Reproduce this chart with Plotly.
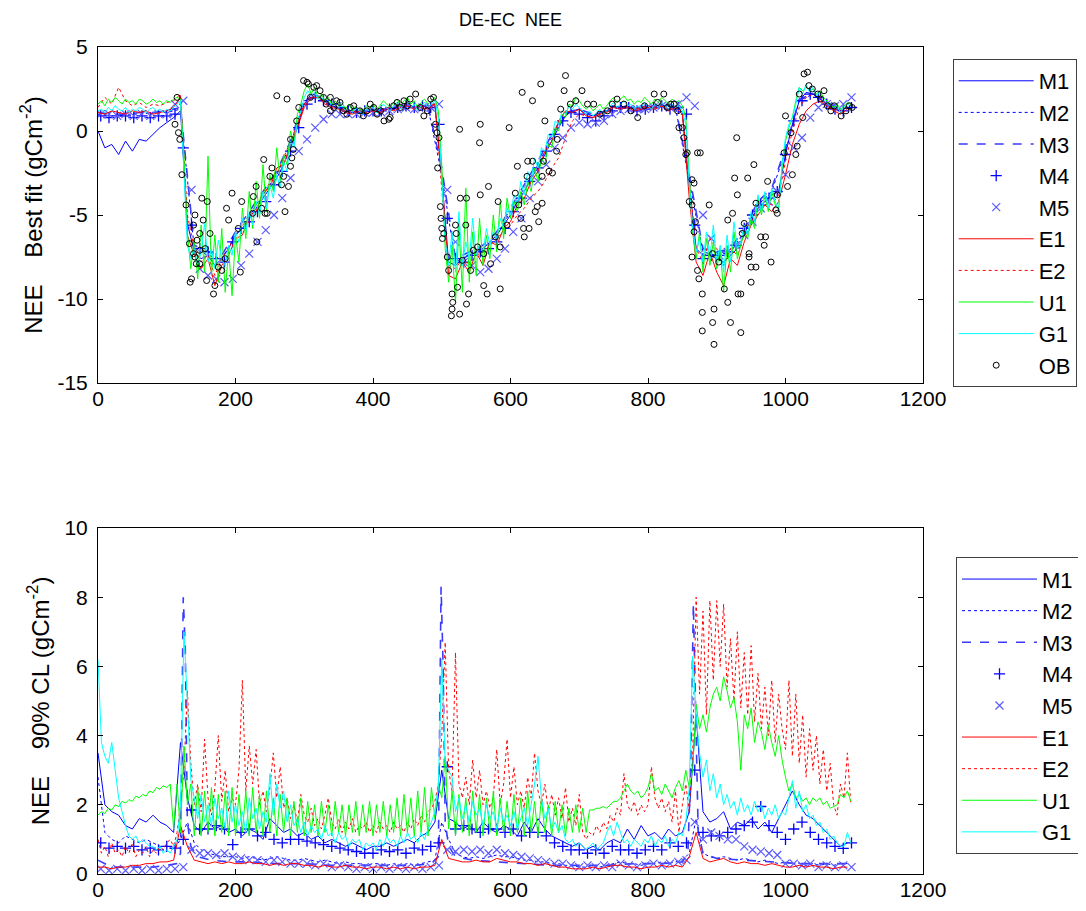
import plotly.graph_objects as go

# ---------------- day grids ----------------
days5 = list(range(0, 1100, 5))     # 220 samples
days10 = list(range(0, 1100, 10))   # 110 samples
days20 = list(range(0, 1100, 20))   # 55 samples
days12 = list(range(4, 1100, 12))   # 92 samples (M4 / M5 markers)

x_ticks = [0, 200, 400, 600, 800, 1000, 1200]
x_tick_labels = ["0", "200", "400", "600", "800", "1000", "1200"]
top_y_ticks = [-15, -10, -5, 0, 5]
top_y_labels = ["-15", "-10", "-5", "0", "5"]
bot_y_ticks = [0, 2, 4, 6, 8, 10]
bot_y_labels = ["0", "2", "4", "6", "8", "10"]

# ---------------- TOP PANEL: best fit NEE ----------------
G1_top = [
    1.2, 1.3, 1.1, 1.4, 1.2, 1.5, 1.3, 1.2, 1.4, 1.1, 1.3, 1.2, 1.4, 1.3, 1.1, 1.3, 1.4, 1.2, 1.3, 1.1,
    1.3, 1.2, 1.4, 1.6, 1.8, -2.5, -6.8, -7.6, -7.0, -8.0, -7.2, -5.5, -7.8, -7.0, -8.2, -6.5, -7.6, -8.0, -6.8, -7.4,
    -6.0, -6.6, -5.2, -6.0, -4.8, -5.6, -4.2, -5.0, -3.6, -4.6, -3.2, -4.0, -2.6, -3.4, -1.8, -2.4, -0.6, -1.0, 0.6, 1.2,
    2.0, 2.4, 2.1, 2.3, 1.9, 2.0, 1.7, 1.8, 1.5, 1.6, 1.4, 1.5, 1.2, 1.3, 1.1, 1.4, 1.2, 1.0, 1.3, 1.2,
    1.4, 1.1, 1.3, 1.6, 1.4, 1.2, 1.5, 1.7, 1.3, 1.6, 1.8, 1.4, 1.6, 1.2, 1.5, 1.7, 1.4, 1.6, 1.8, 0.8,
    -3.0, -6.5, -8.0, -6.0, -8.4, -4.8, -8.0, -6.6, -7.6, -5.2, -7.4, -6.8, -7.2, -5.8, -6.8, -6.0, -6.4, -5.2, -5.8, -4.6,
    -5.0, -3.8, -4.4, -3.0, -3.8, -2.4, -3.0, -1.6, -2.2, -1.0, -1.2, -0.2, -0.4, 0.6, 0.4, 1.2, 1.0, 1.5, 1.3, 1.6,
    1.4, 1.2, 1.0, 1.2, 0.9, 1.1, 1.3, 1.0, 1.2, 1.5, 1.7, 1.4, 1.6, 1.8, 1.5, 1.6, 1.3, 1.5, 1.4, 1.7,
    1.5, 1.3, 1.6, 1.4, 1.7, 1.5, 1.3, 1.6, 1.4, 1.5, 1.2, 0.4, -3.2, -5.8, -7.2, -6.4, -7.8, -6.0, -7.6, -5.6,
    -7.8, -6.8, -8.4, -6.2, -7.8, -5.4, -7.0, -6.6, -5.6, -6.2, -4.8, -5.4, -3.8, -4.8, -3.6, -4.6, -3.4, -4.2, -4.8, -2.0,
    -0.4, 0.4, 0.8, 1.6, 2.6, 2.2, 2.8, 2.3, 2.6, 2.1, 2.3, 1.9, 1.7, 1.5, 1.3, 1.5, 1.1, 1.4, 1.6, 1.5,
]
U1_top = [
    1.6, 1.8, 1.5, 1.9, 1.7, 2.0, 1.8, 1.6, 1.9, 1.7, 1.8, 1.6, 1.9, 1.8, 1.6, 1.7, 1.9, 1.7, 1.8, 1.6,
    1.8, 1.7, 1.9, 2.0, 1.9, -1.5, -6.0, -8.2, -6.4, -8.8, -5.6, -8.4, -1.5, -8.6, -6.2, -9.0, -5.8, -9.6, -7.0, -9.8,
    -6.2, -7.8, -4.6, -6.4, -3.6, -5.8, -3.0, -5.2, -2.0, -4.8, -2.6, -3.6, -1.0, -3.0, -1.4, -2.0, 0.0, -0.8, 1.0, 1.6,
    2.4, 2.8, 2.2, 2.6, 2.0, 2.2, 1.8, 2.0, 1.6, 1.8, 1.5, 1.7, 1.3, 1.6, 1.2, 1.5, 1.3, 1.2, 1.5, 1.4,
    1.6, 1.3, 1.5, 1.8, 1.6, 1.4, 1.7, 1.9, 1.5, 1.8, 2.0, 1.6, 1.8, 1.4, 1.7, 1.9, 1.6, 1.8, 2.0, 1.2,
    -2.0, -7.0, -9.0, -6.8, -10.2, -5.6, -9.6, -3.4, -9.0, -6.0, -8.6, -5.2, -8.0, -6.2, -7.6, -5.0, -7.2, -4.2, -6.4, -4.0,
    -5.2, -4.2, -4.8, -3.6, -4.4, -3.0, -3.6, -2.2, -3.0, -1.6, -2.0, -0.8, -1.0, 0.2, 0.0, 1.0, 0.8, 1.6, 1.5, 2.0,
    1.8, 1.5, 1.3, 1.5, 1.2, 1.4, 1.6, 1.3, 1.5, 1.8, 2.0, 1.7, 1.9, 2.1, 1.8, 1.9, 1.6, 1.8, 1.7, 2.0,
    1.8, 1.6, 1.9, 1.7, 2.0, 1.8, 1.6, 1.9, 1.7, 1.8, 1.5, 0.8, -2.6, -6.0, -7.6, -6.0, -8.4, -6.4, -8.0, -6.6,
    -8.2, -7.0, -9.6, -6.8, -8.4, -6.0, -7.6, -6.8, -6.0, -6.4, -5.2, -5.8, -4.0, -5.0, -3.8, -4.8, -3.6, -4.4, -4.6, -2.2,
    -0.6, 0.2, 0.8, 1.8, 2.6, 2.4, 2.6, 2.4, 2.5, 2.2, 2.4, 2.0, 1.8, 1.6, 1.4, 1.6, 1.3, 1.5, 1.7, 1.6,
]
E1_top = [
    1.1, 1.0, 1.2, 1.1, 1.0, 1.2, 1.1, 1.2, 1.0, 1.1,
    1.2, 1.4, 2.0, -6.2, -7.4, -8.2, -7.6, -9.2, -8.0, -7.4,
    -6.4, -6.2, -5.0, -4.8, -3.6, -3.4, -2.2, -2.0, -0.8, 0.2,
    1.4, 2.0, 2.0, 1.6, 1.4, 1.3, 1.1, 1.0, 1.2, 1.0,
    1.2, 1.1, 1.3, 1.2, 1.4, 1.5, 1.3, 1.4, 1.3, 1.6,
    -2.5, -8.6, -8.8, -7.8, -8.4, -7.2, -8.0, -6.6, -6.8, -5.8,
    -5.4, -4.4, -4.0, -3.0, -2.4, -1.2, -0.6, 0.6, 1.2, 1.1,
    1.3, 0.9, 0.8, 1.0, 1.1, 1.4, 1.3, 1.4, 1.2, 1.3,
    1.4, 1.3, 1.5, 1.2, 1.4, 1.0, -4.0, -7.8, -8.6, -7.2,
    -8.4, -9.2, -7.6, -8.0, -6.6, -5.6, -5.0, -4.4, -4.8, -4.2,
    -2.6, -0.8, 0.4, 1.2, 1.6, 1.8, 1.5, 1.2, 1.0, 1.3,
]
E2_top = [
    1.4, 2.0, 1.6, 2.6, 1.8, 1.5, 1.7, 1.4, 1.6, 1.5,
    1.7, 1.8, 2.2, -5.0, -7.0, -7.8, -7.4, -8.6, -7.6, -7.0,
    -6.2, -5.6, -5.4, -4.4, -4.0, -3.0, -2.6, -1.6, -0.6, 0.4,
    1.6, 2.2, 2.0, 1.7, 1.5, 1.4, 1.2, 1.1, 1.3, 1.1,
    1.3, 1.2, 1.4, 1.3, 1.5, 1.6, 1.4, 1.5, 1.4, 1.7,
    -3.5, -8.0, -8.2, -7.6, -8.0, -7.4, -7.2, -6.8, -6.4, -6.0,
    -5.6, -5.0, -4.6, -4.0, -3.6, -3.0, -2.2, -1.6, -0.4, 0.6,
    1.0, 0.9, 0.8, 1.0, 1.2, 1.5, 1.4, 1.5, 1.3, 1.4,
    1.5, 1.4, 1.6, 1.3, 1.5, 1.1, -3.0, -7.0, -7.8, -6.4,
    -7.0, -8.0, -7.0, -7.4, -6.0, -5.4, -4.6, -4.2, -4.4, -3.8,
    -1.8, 0.0, 1.4, 2.0, 2.2, 2.0, 1.6, 1.3, 1.2, 1.5,
]
M1_top = [
    0.0, -1.0, -0.8, -1.4, -0.6, -1.2, -0.5, -0.6, -0.2, 0.2,
    0.5, 0.8, 1.2, -5.5, -7.2, -7.6, -7.4, -8.0, -7.6, -7.0,
    -6.2, -5.8, -5.2, -4.6, -4.0, -3.4, -2.8, -2.0, -1.0, 0.2,
    1.6, 2.2, 2.1, 1.8, 1.5, 1.4, 1.2, 1.1, 1.2, 1.1,
    1.3, 1.2, 1.4, 1.3, 1.5, 1.6, 1.4, 1.5, 1.4, 1.6,
    -2.8, -7.8, -8.0, -7.6, -7.4, -7.2, -7.0, -6.6, -6.2, -5.6,
    -5.0, -4.2, -3.6, -2.8, -2.2, -1.4, -0.6, 0.2, 0.9, 1.2,
    1.3, 1.0, 0.9, 1.1, 1.2, 1.5, 1.4, 1.5, 1.3, 1.4,
    1.5, 1.4, 1.6, 1.3, 1.5, 1.1, -3.2, -7.0, -7.4, -7.4,
    -7.6, -7.8, -7.4, -7.0, -6.2, -5.2, -4.6, -4.2, -3.8, -3.6,
    -1.4, 0.4, 1.8, 2.3, 2.2, 1.9, 1.6, 1.3, 1.2, 1.4,
]
M2_top = [
    1.0, 0.9, 1.0, 1.0, 1.1, 1.1, 1.3, -7.0, -7.4, -7.6, -6.2, -5.0, -3.8, -2.6, -0.8,
    1.8, 2.0, 1.5, 1.2, 1.2, 1.3, 1.3, 1.4, 1.4, 1.4,
    -2.6, -7.8, -7.4, -7.0, -6.2, -4.8, -3.4, -2.0, -0.4, 1.0,
    1.3, 0.9, 1.2, 1.4, 1.3, 1.5, 1.5, 1.4, -3.0, -7.2,
    -7.4, -7.2, -6.0, -4.4, -3.6, -1.2, 1.8, 2.2, 1.6, 1.2,
]
M3_top = [
    1.1, 1.0, 1.0, 1.1, 1.1, 1.2, 1.4, -6.8, -7.2, -7.4, -6.0, -4.8, -3.6, -2.4, -0.6,
    1.9, 2.0, 1.5, 1.2, 1.1, 1.3, 1.3, 1.4, 1.4, 1.5,
    -2.2, -7.6, -7.2, -6.8, -6.0, -4.6, -3.2, -1.8, -0.2, 1.1,
    1.3, 1.0, 1.2, 1.4, 1.3, 1.5, 1.5, 1.4, -2.6, -7.0,
    -7.2, -7.0, -5.8, -4.2, -3.4, -1.0, 1.9, 2.2, 1.7, 1.3,
]
M4_top = [
    0.9, 0.8, 0.9, 0.9, 0.8, 0.9, 0.8, 0.9, 0.9, 1.0,
    -1.0, -5.6, -7.0, -7.2, -7.6, -7.8, -6.6,
    -5.8, -5.4, -4.8, -4.2, -3.2, -2.4, -1.2, 0.2,
    1.6, 2.0, 1.8, 1.6, 1.4, 1.2, 1.1, 1.2, 1.2,
    1.2, 1.3, 1.4, 1.5, 1.4, 1.5, 1.4, 0.4,
    -5.2, -7.6, -7.8, -7.4, -7.2, -7.0, -6.6, -5.8,
    -4.8, -4.0, -3.0, -2.2, -1.2, -0.2, 0.6, 1.1, 1.0,
    0.8, 0.6, 0.9, 1.2, 1.4, 1.4, 1.2, 1.3,
    1.4, 1.5, 1.3, 1.4, 1.0, -5.6, -7.6, -7.4,
    -7.4, -7.2, -6.8, -5.8, -5.0, -4.4, -4.0, -3.6, -1.4,
    0.6, 1.8, 2.2, 2.0, 1.6, 1.3, 1.2, 1.4,
]
M5_top = [
    1.0, 1.0, 0.9, 1.0, 0.9, 1.0, 0.9, 1.0, 1.0, 1.6,
    1.8, -3.5, -8.2, -8.6, -8.8, -9.0, -8.8,
    -8.0, -7.3, -6.6, -5.9, -5.0, -4.0, -2.8, -1.2,
    -0.5, 0.2, 0.7, 1.0, 1.0, 1.0, 1.0, 1.1, 1.1,
    1.1, 1.2, 1.3, 1.4, 1.3, 1.4, 1.4, 1.6,
    -3.5, -6.6, -7.8, -8.0, -8.4, -8.2, -7.6, -7.0,
    -6.0, -5.2, -4.0, -3.0, -2.0, -1.0, -0.4, 0.2, 0.5,
    0.4, 0.5, 0.6, 1.0, 1.2, 1.3, 1.3, 1.3,
    1.4, 1.5, 1.4, 1.6, 2.0, 1.5, -5.0, -6.4,
    -7.4, -7.2, -6.8, -6.2, -5.4, -4.6, -4.2, -3.6, -2.6,
    -1.0, -0.4, 0.8, 1.4, 1.6, 1.5, 1.6, 2.0,
]
OB_days = [
    112, 115, 117, 119, 122, 128, 133, 134, 136, 139, 139, 141, 141, 143, 144, 148, 148, 148, 151, 153,
    156, 158, 159, 163, 168, 170, 175, 180, 185, 187, 190, 195, 204, 207, 209, 225, 226, 230, 231, 238,
    241, 243, 246, 250, 253, 260, 267, 270, 272, 275, 277, 280, 280, 282, 284, 289, 292, 299, 304, 306,
    309, 314, 318, 323, 328, 332, 338, 338, 343, 347, 352, 357, 362, 367, 372, 381, 386, 391, 396, 401,
    406, 411, 416, 423, 425, 430, 435, 440, 445, 450, 454, 462, 469, 474, 479, 484, 488, 491, 493, 494,
    496, 498, 499, 500, 501, 503, 508, 510, 515, 516, 515, 514, 520, 521, 523, 526, 526, 527, 530, 535,
    536, 536, 539, 542, 546, 552, 555, 556, 556, 561, 561, 566, 568, 571, 578, 582, 585, 585, 595, 598,
    607, 610, 612, 615, 617, 619, 620, 624, 625, 627, 632, 632, 636, 639, 641, 644, 646, 646, 648, 650,
    656, 661, 667, 668, 673, 678, 680, 687, 695, 704, 712, 721, 730, 741, 748, 755, 765, 775, 785, 795,
    809, 814, 823, 828, 833, 838, 843, 845, 850, 852, 855, 857, 860, 864, 864, 864, 867, 867, 869, 872,
    872, 874, 876, 879, 879, 879, 889, 894, 894, 896, 896, 903, 911, 916, 916, 920, 923, 926, 929, 930,
    931, 935, 935, 937, 940, 945, 947, 947, 950, 950, 954, 957, 957, 964, 969, 971, 974, 979, 986, 988,
    988, 998, 1000, 1003, 1008, 1010, 1015, 1017, 1020, 1025, 1027, 1032, 1034, 1039, 1047, 1051, 1056, 1061, 1066, 1071,
    1081, 1088, 1093, 1097,
]
OB_vals = [
    0.4, 2.0, -0.1, -0.5, -2.6, -4.4, -6.7, -9.0, -8.8, -5.6, -7.3, -5.0, -7.5, -7.9, -6.5, -6.1, -7.1, -7.9, -4.0, -5.3,
    -7.0, -8.9, -4.2, -6.1, -9.7, -9.2, -8.1, -8.3, -7.6, -4.6, -5.3, -3.7, -5.8, -8.4, -4.2, -4.9, -3.9, -3.3, -6.6, -4.6,
    -1.7, -4.9, -4.9, -2.7, -2.2, 2.1, -3.2, -2.7, -4.8, 1.9, -3.3, -2.1, -0.5, -1.6, -1.1, 0.6, 1.4, 3.0, 2.9, 2.8,
    2.0, 2.6, 2.7, 2.4, 2.0, 1.6, 2.0, 1.2, 1.4, 1.8, 1.7, 1.2, 1.0, 1.4, 1.5, 1.2, 0.9, 1.2, 1.6, 1.4,
    1.0, 1.2, 0.6, 0.7, 0.8, 1.5, 1.7, 1.4, 1.8, 1.5, 1.9, 2.2, 1.4, 0.9, 1.2, 1.9, 2.0, 0.4, -0.1, -2.2,
    -0.4, -4.5, -5.2, -5.8, -6.4, -6.1, -7.5, -8.3, -9.7, -10.2, -10.6, -11.0, -5.6, -6.1, -9.3, -10.9, 0.1, -4.0, -7.7, -5.6,
    -4.0, -10.3, -9.7, -8.3, -7.1, -6.9, -0.7, 0.4, -3.8, -7.3, -9.2, -9.7, -3.3, -7.9, -6.3, -4.2, -9.4, -6.9, -5.6, 0.2,
    -3.7, -2.1, -4.4, -5.2, 2.3, -5.8, -6.3, -2.7, -1.8, -5.8, 1.8, -1.8, -4.8, -4.5, -5.4, 2.8, -4.3, -2.7, -1.8, 0.6,
    -2.4, -2.5, -1.2, -0.5, 1.3, 2.4, 3.3, 1.6, 1.8, 2.4, 1.6, 1.6, 1.0, 1.2, 1.6, 1.9, 1.6, 1.2, 0.8, 1.5,
    2.2, 1.7, 2.2, 1.4, 1.6, 1.6, 1.2, 0.2, 0.2, -0.4, -1.4, -1.3, -4.2, -2.9, -4.4, -7.5, -3.1, -6.0, -5.4, -1.3,
    -8.3, -8.8, -1.3, -9.7, -10.8, -11.9, -4.4, -7.3, -11.4, -10.6, -12.7, -7.8, -9.4, -10.2, -5.3, -11.4, -4.9, -2.8, -0.4, -3.8,
    -9.7, -9.7, -12.0, -6.1, -5.5, -2.8, -7.5, -7.3, -8.1, -9.0, -2.0, -8.1, -4.3, -6.3, -6.8, -6.3, -3.0, -7.8, -4.7, -3.8,
    -4.9, -1.3, 0.9, -3.3, -0.1, -2.6, -1.4, -0.9, 2.2, 0.8, 3.4, 3.5, 2.7, 2.5, 2.2, 1.9, 2.4, 1.5, 1.2, 1.5,
    0.9, 1.2, 1.5, 1.4,
]

# ---------------- BOTTOM PANEL: 90% CL ----------------
G1_bot = [
    6.2, 3.8, 3.4, 3.2, 3.8, 3.0, 2.2, 1.8, 1.4, 1.1, 1.0, 1.1, 0.9, 1.0, 0.9, 0.8, 0.8, 0.7, 0.8, 0.6,
    0.7, 0.6, 0.8, 1.0, 2.0, 7.0, 5.0, 2.7, 2.2, 1.6, 2.3, 1.5, 2.0, 1.4, 2.2, 1.6, 1.9, 1.3, 2.4, 1.5,
    2.0, 1.4, 1.8, 1.2, 2.2, 1.6, 1.9, 1.3, 1.8, 1.5, 2.9, 1.7, 2.6, 1.9, 2.4, 1.5, 2.0, 1.4, 1.6, 1.2,
    1.5, 1.1, 1.4, 1.2, 1.3, 1.0, 1.4, 1.1, 1.2, 0.9, 1.2, 1.0, 1.1, 0.8, 1.0, 0.9, 1.0, 0.7, 0.9, 0.8,
    0.9, 0.7, 1.0, 0.8, 1.1, 0.9, 1.0, 0.8, 1.1, 0.9, 1.2, 1.0, 1.1, 0.9, 1.2, 1.0, 1.3, 1.5, 1.8, 2.5,
    6.2, 3.2, 3.0, 2.8, 1.8, 2.2, 1.6, 2.0, 1.5, 2.1, 1.7, 1.9, 1.4, 2.0, 1.6, 1.8, 1.3, 1.9, 1.5, 1.7,
    1.4, 1.8, 1.3, 1.6, 1.9, 1.4, 2.0, 2.6, 3.4, 2.2, 1.6, 1.9, 1.3, 1.5, 1.2, 1.4, 1.0, 0.9, 1.0, 0.8,
    0.9, 0.8, 0.7, 0.8, 0.9, 0.7, 0.8, 0.9, 1.2, 1.4, 1.1, 1.5, 1.2, 0.9, 1.0, 0.8, 1.0, 0.9, 0.8, 1.0,
    0.9, 1.1, 0.8, 1.0, 0.9, 1.1, 0.8, 1.0, 0.9, 1.2, 1.1, 1.5, 2.5, 6.3, 4.6, 3.5, 2.8, 3.3, 2.4, 2.9,
    2.2, 2.6, 2.0, 2.3, 1.9, 2.1, 1.7, 2.2, 1.8, 2.0, 1.7, 2.1, 1.8, 2.0, 1.6, 1.9, 1.7, 2.0, 1.6, 1.8,
    1.7, 2.2, 2.7, 1.9, 2.4, 1.8, 2.0, 1.6, 1.7, 1.4, 1.5, 1.2, 1.3, 1.0, 1.1, 0.9, 0.8, 0.8, 1.2, 0.9,
]
U1_bot = [
    1.7, 1.8, 1.75, 1.9, 1.85, 2.0, 1.95, 2.1, 2.05, 2.15, 2.1, 2.25, 2.2, 2.3, 2.25, 2.4, 2.35, 2.5, 2.45, 2.55,
    2.5, 2.6, 1.3, 2.6, 1.2, 3.7, 2.0, 2.6, 1.1, 2.5, 1.1, 2.4, 1.2, 2.5, 1.1, 2.3, 1.2, 2.4, 1.1, 2.5,
    1.1, 2.3, 1.2, 2.4, 1.1, 2.5, 1.2, 2.3, 1.1, 2.4, 1.2, 2.2, 1.1, 2.3, 1.2, 2.2, 1.1, 2.1, 1.2, 2.2,
    1.1, 2.1, 1.2, 2.0, 1.1, 2.1, 1.2, 2.0, 1.1, 2.1, 1.2, 2.0, 1.1, 2.0, 1.2, 2.1, 1.1, 2.0, 1.2, 2.1,
    1.1, 2.0, 1.2, 2.1, 1.1, 2.0, 1.2, 2.2, 1.1, 2.3, 1.2, 2.2, 1.1, 2.4, 1.2, 2.5, 1.1, 2.5, 1.6, 2.6,
    2.2, 3.4, 1.3, 2.4, 1.1, 2.3, 1.2, 2.2, 1.1, 2.4, 1.2, 2.3, 1.1, 2.2, 1.2, 2.4, 1.1, 2.2, 1.2, 2.1,
    1.1, 2.3, 1.2, 2.2, 1.1, 2.4, 1.2, 2.1, 1.1, 2.2, 1.2, 2.0, 1.1, 2.1, 1.2, 2.0, 1.1, 1.9, 1.2, 2.0,
    1.2, 1.9, 1.2, 1.85, 1.85, 1.9, 1.9, 1.95, 1.9, 2.0, 2.1, 2.1, 2.2, 2.4, 2.6, 2.4, 2.3, 2.4, 2.2, 2.3,
    2.5, 2.9, 2.4, 2.5, 2.3, 2.6, 2.4, 2.2, 2.5, 2.7, 2.4, 3.0, 2.5, 3.0, 4.9, 4.2, 4.6, 4.1, 4.8, 5.2,
    5.4, 5.0, 5.7, 5.3, 4.8, 5.1, 4.4, 3.0, 4.6, 4.2, 4.8, 3.8, 4.4, 4.1, 3.6, 4.3, 3.8, 3.4, 4.0, 3.3,
    2.8, 2.4, 2.6, 2.2, 2.3, 2.1, 2.2, 2.0, 2.2, 2.1, 2.2, 2.0, 2.1, 1.9, 1.95, 2.0, 2.3, 2.2, 2.4, 2.1,
]
E2_bot = [
    1.0, 0.6, 0.8, 0.5, 0.9, 0.6, 0.7, 0.5, 0.8, 0.6, 0.9, 0.5, 0.7, 0.6, 0.8, 0.5, 0.7, 0.6, 0.8, 0.7,
    0.9, 1.0, 0.8, 1.2, 2.0, 3.0, 5.3, 3.2, 2.0, 2.6, 1.8, 3.9, 2.2, 1.7, 2.5, 4.0, 2.1, 3.0, 1.8, 2.2,
    2.0, 3.0, 5.6, 2.4, 3.7, 2.6, 3.6, 2.0, 2.4, 1.8, 2.5, 3.5, 2.2, 3.1, 1.9, 2.2, 1.6, 2.0, 1.5, 2.3,
    1.7, 1.5, 1.9, 1.4, 1.6, 1.3, 1.7, 2.2, 1.5, 1.3, 1.6, 1.2, 1.5, 1.3, 1.6, 1.2, 1.4, 1.3, 1.5, 1.2,
    1.4, 1.2, 1.5, 1.3, 1.4, 1.2, 1.5, 1.3, 1.4, 1.2, 1.5, 1.3, 1.6, 1.4, 1.7, 1.5, 1.8, 1.9, 2.1, 2.6,
    4.0, 6.7, 3.0, 2.4, 6.4, 2.6, 2.2, 2.8, 2.0, 3.3, 2.2, 3.0, 2.0, 2.4, 1.9, 2.2, 3.6, 2.0, 2.6, 3.9,
    2.2, 3.1, 2.0, 2.4, 1.9, 2.8, 2.2, 3.5, 2.4, 2.0, 2.6, 1.8, 2.3, 1.7, 2.2, 1.6, 2.5, 1.5, 1.9, 1.4,
    2.3, 1.2, 1.0, 1.2, 1.1, 1.4, 1.2, 1.5, 1.3, 1.7, 1.5, 1.9, 1.7, 2.9, 2.0, 1.8, 2.1, 1.7, 2.0, 1.8,
    2.0, 3.1, 2.2, 1.9, 2.2, 1.8, 2.1, 1.5, 2.4, 1.2, 2.0, 2.6, 1.8, 3.5, 8.0, 5.2, 7.6, 4.6, 7.9, 5.6,
    7.9, 6.0, 7.8, 5.4, 6.8, 5.0, 7.0, 4.8, 6.4, 4.6, 6.6, 4.4, 5.8, 4.2, 5.4, 4.0, 5.6, 3.8, 5.2, 4.2,
    3.6, 5.6, 3.4, 5.2, 3.2, 4.6, 2.8, 4.2, 3.0, 4.0, 2.6, 3.6, 2.4, 3.2, 2.0, 1.7, 2.6, 2.2, 3.5, 2.0,
]
M1_bot = [
    3.5, 2.0, 1.8, 1.7, 1.4, 1.3, 1.6, 1.5, 1.7, 1.5,
    1.4, 1.2, 3.8, 2.2, 1.4, 1.2, 1.5, 1.3, 1.4, 1.2,
    1.3, 1.1, 1.3, 1.2, 1.0, 1.6, 1.4, 1.2, 1.3, 1.1,
    1.2, 1.0, 1.1, 0.9, 1.0, 0.9, 0.8, 0.9, 0.8, 0.7,
    0.8, 0.8, 0.9, 0.8, 0.9, 1.0, 0.9, 1.1, 1.2, 1.5,
    3.0, 1.6, 1.5, 1.3, 1.4, 1.2, 1.5, 1.3, 1.2, 1.4,
    1.3, 1.1, 1.5, 1.2, 1.6, 1.3, 1.1, 1.0, 0.9, 0.8,
    0.9, 0.7, 0.8, 0.7, 0.9, 1.0, 0.9, 1.3, 1.0, 1.4,
    1.1, 1.2, 1.0, 1.3, 1.1, 1.2, 1.8, 4.6, 1.8, 1.5,
    1.6, 1.8, 1.3, 1.5, 1.4, 1.6, 1.3, 1.5, 1.2, 1.6,
    2.0, 2.4, 2.0, 1.7, 1.6, 1.4, 1.2, 1.0, 0.8, 0.9,
]
M2_bot = [
    2.8, 1.2, 1.0, 0.9, 1.1, 1.0, 0.9, 1.0, 0.9, 0.8,
    0.8, 0.7, 1.0, 1.5, 0.9, 0.7, 0.6, 0.55, 0.5, 0.5,
    0.5, 0.45, 0.5, 0.45, 0.4, 0.45, 0.5, 0.45, 0.4, 0.4,
    0.45, 0.4, 0.35, 0.4, 0.35, 0.3, 0.35, 0.3, 0.3, 0.25,
    0.3, 0.3, 0.25, 0.3, 0.25, 0.3, 0.25, 0.3, 0.35, 0.4,
    1.5, 1.0, 0.6, 0.5, 0.45, 0.5, 0.45, 0.5, 0.55, 0.5,
    0.5, 0.45, 0.4, 0.4, 0.35, 0.35, 0.3, 0.3, 0.25, 0.25,
    0.2, 0.2, 0.25, 0.2, 0.25, 0.3, 0.35, 0.3, 0.3, 0.25,
    0.3, 0.3, 0.35, 0.3, 0.35, 0.4, 0.6, 1.6, 0.6, 0.5,
    0.45, 0.5, 0.45, 0.4, 0.45, 0.4, 0.35, 0.4, 0.35, 0.3,
    0.35, 0.3, 0.3, 0.25, 0.3, 0.25, 0.3, 0.25, 0.3, 0.3,
]
M3_bot_days = [
    0, 20, 40, 60, 80, 100, 115, 120, 124, 127,
    130, 135, 145, 165, 190, 220, 260, 300, 340, 380,
    420, 460, 485, 495, 499, 502, 505, 510, 520, 545,
    580, 620, 660, 700, 740, 780, 820, 850, 858, 862,
    866, 869, 873, 880, 900, 940, 980, 1020, 1060, 1095,
]
M3_bot = [
    0.4, 0.2, 0.2, 0.2, 0.2, 0.25, 0.3, 0.6, 8.0, 6.5,
    1.5, 0.8, 0.5, 0.4, 0.35, 0.35, 0.3, 0.3, 0.25, 0.25,
    0.25, 0.25, 0.3, 0.5, 8.3, 6.0, 1.5, 0.8, 0.5, 0.4,
    0.35, 0.3, 0.25, 0.25, 0.25, 0.3, 0.3, 0.35, 0.6, 3.0,
    7.8, 5.0, 1.2, 0.6, 0.45, 0.4, 0.35, 0.3, 0.3, 0.3,
]
E1_bot = [
    0.2, 0.2, 0.15, 0.2, 0.2, 0.25, 0.25, 0.3, 0.3, 0.35,
    0.35, 0.4, 1.4, 0.8, 0.4, 0.35, 0.3, 0.35, 0.3, 0.35,
    0.3, 0.3, 0.35, 0.3, 0.3, 0.25, 0.3, 0.25, 0.3, 0.3,
    0.25, 0.25, 0.2, 0.25, 0.2, 0.2, 0.25, 0.2, 0.2, 0.15,
    0.2, 0.2, 0.15, 0.2, 0.15, 0.2, 0.15, 0.2, 0.2, 0.25,
    1.0, 0.45, 0.4, 0.35, 0.35, 0.4, 0.35, 0.35, 0.45, 0.4,
    0.35, 0.35, 0.3, 0.3, 0.25, 0.3, 0.25, 0.2, 0.2, 0.15,
    0.15, 0.15, 0.2, 0.15, 0.2, 0.25, 0.25, 0.2, 0.2, 0.15,
    0.2, 0.2, 0.25, 0.2, 0.25, 0.2, 0.5, 1.2, 0.45, 0.35,
    0.4, 0.45, 0.35, 0.3, 0.35, 0.3, 0.3, 0.25, 0.3, 0.25,
    0.2, 0.2, 0.25, 0.2, 0.25, 0.2, 0.2, 0.15, 0.2, 0.2,
]
M4_bot = [
    0.9, 0.75, 0.8, 0.75, 0.8, 0.7, 0.75, 0.7, 0.8, 0.75,
    1.0, 1.85, 1.3, 1.3, 1.4, 1.3, 0.85,
    1.2, 1.3, 1.1, 1.2, 1.0, 0.9, 1.0, 1.0,
    0.95, 0.9, 0.85, 0.8, 0.75, 0.7, 0.65, 0.6, 0.6,
    0.7, 0.65, 0.7, 0.6, 0.75, 0.7, 0.8, 0.9,
    3.1, 1.3, 1.4, 1.3, 1.2, 1.3, 1.3, 1.2,
    1.3, 1.1, 1.2, 1.2, 1.1, 0.9, 0.8, 0.7, 0.7,
    0.6, 0.7, 0.6, 0.8, 0.7, 0.7, 0.6, 0.7,
    0.8, 0.7, 0.9, 0.8, 0.9, 3.0, 1.2, 1.1,
    1.1, 1.2, 1.3, 1.4, 1.5, 1.95, 1.4, 1.2, 1.0,
    1.3, 1.5, 1.2, 1.0, 0.9, 0.8, 0.74, 0.9,
]
M5_bot = [
    0.15, 0.1, 0.15, 0.1, 0.15, 0.1, 0.15, 0.1, 0.15, 0.15,
    0.2, 0.7, 0.6, 0.6, 0.55, 0.6, 0.5,
    0.45, 0.4, 0.4, 0.35, 0.4, 0.35, 0.3, 0.3,
    0.3, 0.25, 0.3, 0.2, 0.25, 0.2, 0.15, 0.2, 0.15,
    0.2, 0.15, 0.2, 0.15, 0.2, 0.15, 0.2, 0.25,
    0.7, 0.65, 0.7, 0.65, 0.7, 0.6, 0.7, 0.6,
    0.55, 0.5, 0.45, 0.4, 0.35, 0.3, 0.3, 0.25, 0.2,
    0.25, 0.2, 0.25, 0.2, 0.3, 0.25, 0.2, 0.25,
    0.3, 0.25, 0.3, 0.35, 0.4, 1.5, 1.0, 1.2,
    1.1, 1.0, 1.0, 0.8, 0.7, 0.65, 0.6, 0.55, 0.3,
    0.3, 0.25, 0.3, 0.2, 0.25, 0.2, 0.25, 0.2,
]

for arr, grid in [(G1_top, days5), (U1_top, days5), (G1_bot, days5), (U1_bot, days5), (E2_bot, days5),
                  (E1_top, days10), (E2_top, days10), (M1_top, days10), (M1_bot, days10), (M2_bot, days10),
                  (E1_bot, days10), (M2_top, days20), (M3_top, days20), (M4_top, days12), (M5_top, days12),
                  (M4_bot, days12), (M5_bot, days12), (M3_bot, M3_bot_days), (OB_vals, OB_days)]:
    assert len(arr) == len(grid), (len(arr), len(grid))

# ---------------- styles ----------------
FONT = "Liberation Sans, Arial, sans-serif"
BLUE = "#0000ff"
BLUE_D = "#3a3aff"
BLUE_X = "#5a5aff"
RED = "#ff0000"
GREEN = "#00ff00"
CYAN = "#00ffff"

fig = go.Figure()


def add_panel(xa, ya, leg, data, show_ob):
    (m1x, m1), (m2x, m2), (m3x, m3), (m4x, m4), (m5x, m5), (e1x, e1), (e2x, e2), (u1x, u1), (g1x, g1) = data
    common = dict(xaxis=xa, yaxis=ya, legend=leg)
    fig.add_trace(go.Scatter(x=m1x, y=m1, name="M1", mode="lines", line=dict(color=BLUE, width=1), **common))
    fig.add_trace(go.Scatter(x=m2x, y=m2, name="M2", mode="lines", line=dict(color=BLUE, width=1, dash="dot"), **common))
    fig.add_trace(go.Scatter(x=m3x, y=m3, name="M3", mode="lines", line=dict(color=BLUE_D, width=1.6, dash="dash"), **common))
    fig.add_trace(go.Scatter(x=m4x, y=m4, name="M4", mode="markers",
                             marker=dict(symbol="cross-thin", size=8, color=BLUE, line=dict(color=BLUE, width=1.3)), **common))
    fig.add_trace(go.Scatter(x=m5x, y=m5, name="M5", mode="markers",
                             marker=dict(symbol="x-thin", size=8, color=BLUE_X, line=dict(color=BLUE_X, width=1.2)), **common))
    fig.add_trace(go.Scatter(x=e1x, y=e1, name="E1", mode="lines", line=dict(color=RED, width=1), **common))
    fig.add_trace(go.Scatter(x=e2x, y=e2, name="E2", mode="lines", line=dict(color=RED, width=1, dash="dot"), **common))
    fig.add_trace(go.Scatter(x=u1x, y=u1, name="U1", mode="lines", line=dict(color=GREEN, width=1), **common))
    fig.add_trace(go.Scatter(x=g1x, y=g1, name="G1", mode="lines", line=dict(color=CYAN, width=1), **common))
    if show_ob:
        fig.add_trace(go.Scatter(x=OB_days, y=OB_vals, name="OB", mode="markers",
                                 marker=dict(symbol="circle-open", size=6, color="black", line=dict(color="black", width=1)),
                                 **common))


add_panel("x", "y", "legend",
          [(days10, M1_top), (days20, M2_top), (days20, M3_top), (days12, M4_top), (days12, M5_top),
           (days10, E1_top), (days10, E2_top), (days5, U1_top), (days5, G1_top)], True)
add_panel("x2", "y2", "legend2",
          [(days10, M1_bot), (days10, M2_bot), (M3_bot_days, M3_bot), (days12, M4_bot), (days12, M5_bot),
           (days10, E1_bot), (days5, E2_bot), (days5, U1_bot), (days5, G1_bot)], False)

axis_common = dict(showgrid=False, zeroline=False, showline=True, linecolor="black", linewidth=1,
                   mirror="ticks", ticks="inside", ticklen=5, tickcolor="black",
                   tickfont=dict(family=FONT, size=21, color="black"))
x_axis_common = dict(domain=[0, 1], range=[0, 1200], tickvals=x_ticks, ticktext=x_tick_labels,
                     ticklabelstandoff=-3, **axis_common)
NB = "\u00a0"
legend_common = dict(font=dict(family=FONT, size=22, color="black"), bgcolor="white",
                     bordercolor="#404040", borderwidth=1, traceorder="normal",
                     itemwidth=75, xanchor="left", yanchor="top", itemclick=False)

# page is drawn with an 8px body margin, so the figure is 16px smaller than the window
fig.update_layout(
    width=1070, height=895, autosize=False,
    margin=dict(l=90, r=155, t=39, b=29, autoexpand=False),
    paper_bgcolor="white", plot_bgcolor="white",
    font=dict(family=FONT, size=17, color="black"),
    xaxis=dict(anchor="y", **x_axis_common),
    yaxis=dict(domain=[0.5937, 1], anchor="x", range=[-15, 5], tickvals=top_y_ticks, ticktext=top_y_labels,
               ticklabelstandoff=5,
               title=dict(text="NEE" + NB * 4 + "Best fit (gCm<sup>-2</sup>)", font=dict(family=FONT, size=24),
                          standoff=8), **axis_common),
    xaxis2=dict(anchor="y2", **x_axis_common),
    yaxis2=dict(domain=[0, 0.4184], anchor="x2", range=[0, 10], tickvals=bot_y_ticks, ticktext=bot_y_labels,
                ticklabelstandoff=5,
                title=dict(text="NEE" + NB * 4 + "90% CL (gCm<sup>-2</sup>)", font=dict(family=FONT, size=24),
                           standoff=8), **axis_common),
    legend=dict(x=1.036, y=0.9855, **legend_common),
    legend2=dict(x=1.04, y=0.383, **legend_common),
    showlegend=True,
    annotations=[dict(text="DE-EC" + NB * 2 + "NEE", xref="paper", yref="paper", x=0.5, y=1.0327,
                      xanchor="center", yanchor="middle", showarrow=False,
                      font=dict(family=FONT, size=18, color="black"))],
)

fig.write_html("out.html")
